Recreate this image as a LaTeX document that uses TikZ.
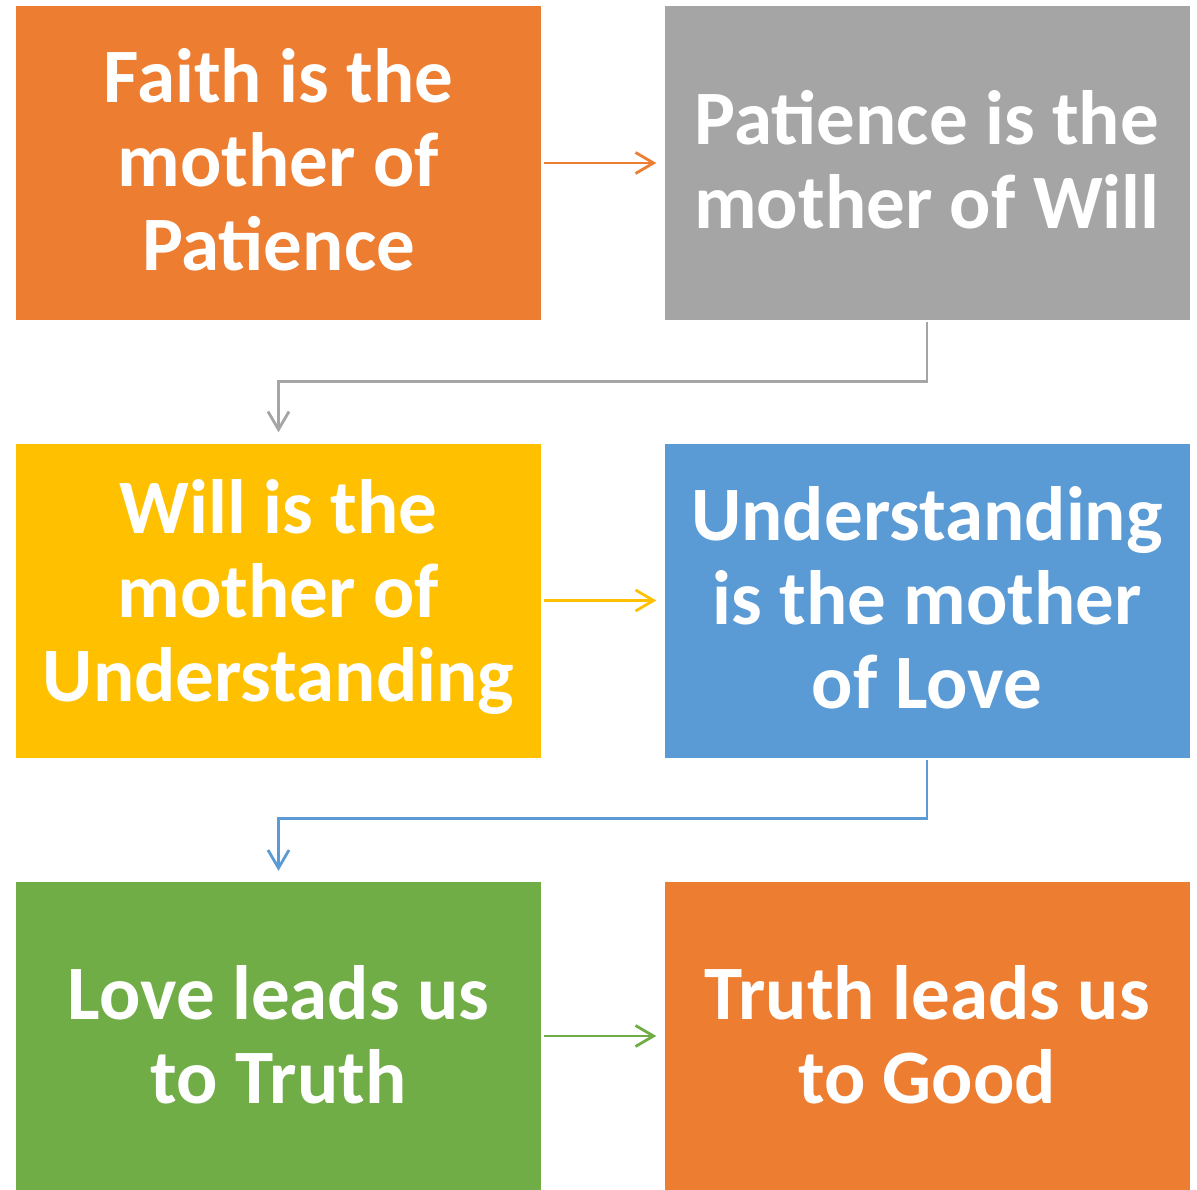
\documentclass[tikz,border=0pt]{standalone}
\usepackage{fontspec}
\setmainfont{Carlito}
\usetikzlibrary{arrows.meta}
\definecolor{cOrange}{HTML}{ED7D31}
\definecolor{cGray}{HTML}{A5A5A5}
\definecolor{cYellow}{HTML}{FFC000}
\definecolor{cBlue}{HTML}{5B9BD5}
\definecolor{cGreen}{HTML}{70AD47}
\tikzset{
  card/.style={draw=none, minimum width=525pt, minimum height=314pt, inner sep=0pt},
  caption/.style={text=white, align=center, inner sep=0pt,
    font=\fontsize{77}{84}\selectfont\bfseries},
  link/.style={line width=2.8pt, -{Straight Barb[length=18pt,width=21pt,line width=2.8pt]}}
}
\begin{document}
\begin{tikzpicture}[x=1pt,y=-1pt]
\useasboundingbox (0,0) rectangle (1197,1190);
\node[card, fill=cOrange] (faith) at (278.5,163) {};
\node[card, fill=cGray] (patience) at (927,163) {};
\node[card, fill=cYellow] (will) at (278.5,600.5) {};
\node[card, fill=cBlue] (under) at (927,600.5) {};
\node[card, fill=cGreen, minimum height=308pt] (love) at (278.5,1036) {};
\node[card, fill=cOrange, minimum height=308pt] (truth) at (927,1036) {};
\node[caption] (faith-t) at ([yshift=3pt]faith.center) {Faith is the\\mother of\\Patience};
\node[caption] (patience-t) at ([yshift=3pt]patience.center) {Patience is the\\mother of Will};
\node[caption] (will-t) at ([yshift=3pt]will.center) {Will is the\\mother of\\Understanding};
\node[caption] (under-t) at ([yshift=3pt]under.center) {Understanding\\is the mother\\of Love};
\node[caption] (love-t) at ([yshift=1pt]love.center) {Love leads us\\to Truth};
\node[caption] (truth-t) at ([yshift=1pt]truth.center) {Truth leads us\\to Good};
\draw[link, cOrange] ([xshift=3pt]faith.east) -- ([xshift=-8pt]patience.west);
\draw[link, cYellow] ([xshift=3pt]will.east) -- ([xshift=-8pt]under.west);
\draw[link, cGreen] ([xshift=3pt]love.east) -- ([xshift=-8pt]truth.west);
% the picture's y axis points down, so shifts below a node are negative
\draw[link, cGray] ([yshift=-2pt]patience.south) -- ++(0,59) -| ([yshift=11pt]will.north);
\draw[link, cBlue] ([yshift=-2pt]under.south) -- ++(0,59) -| ([yshift=11pt]love.north);
\end{tikzpicture}
\end{document}
